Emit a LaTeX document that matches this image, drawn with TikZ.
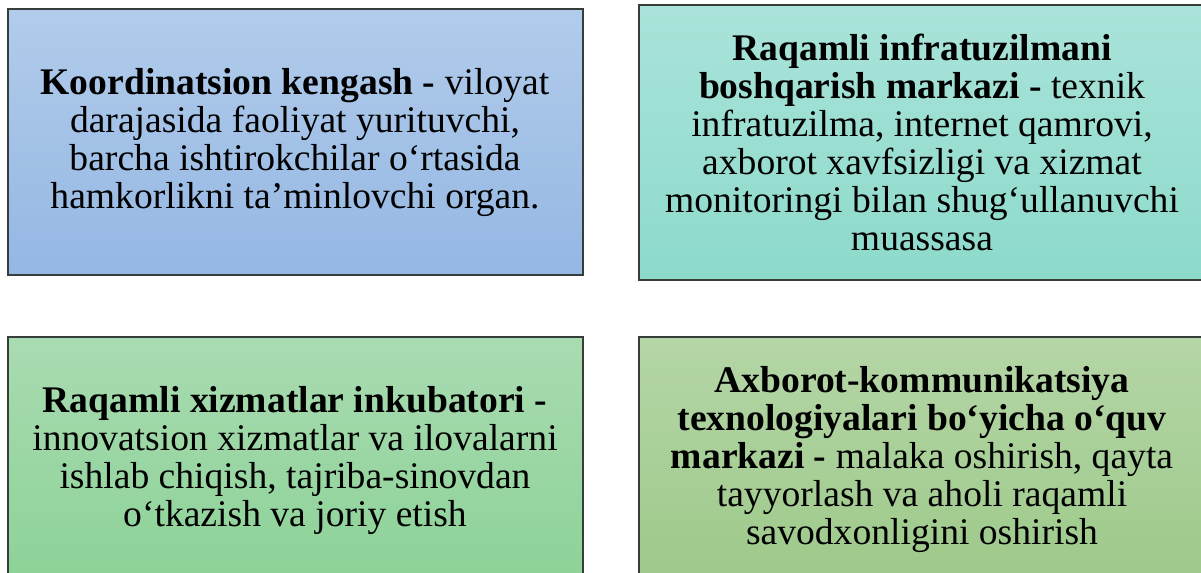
\documentclass[tikz,border=0pt]{standalone}
\usepackage{fontspec}
\setmainfont{Liberation Serif}
\definecolor{aTop}{RGB}{177,204,235}
\definecolor{aBot}{RGB}{149,183,227}
\definecolor{bTop}{RGB}{170,227,217}
\definecolor{bBot}{RGB}{140,218,203}
\definecolor{cTop}{RGB}{169,219,177}
\definecolor{cBot}{RGB}{140,210,151}
\definecolor{dTop}{RGB}{181,214,167}
\definecolor{dBot}{RGB}{157,201,137}
\definecolor{edge}{RGB}{55,62,58}
\begin{document}
\begin{tikzpicture}[x=0.5pt,y=-0.5pt,
  card/.style={draw=edge,line width=0.6pt},
  cardtext/.style={align=center,inner sep=0pt,font=\fontsize{18.8}{19}\selectfont,text=black}]
\useasboundingbox (0,0) rectangle (1201,573);
\clip (0,0) rectangle (1201,573);
\draw[card,top color=aTop,bottom color=aBot] (8,9) rectangle (583,275);
\draw[card,top color=bTop,bottom color=bBot] (639,5) rectangle (1210,280);
\draw[card,top color=cTop,bottom color=cBot] (8,337) rectangle (583,585);
\draw[card,top color=dTop,bottom color=dBot] (639,337) rectangle (1210,585);
\node[cardtext] (t1) at (295,143) {\textbf{Koordinatsion kengash -} viloyat\\darajasida faoliyat yurituvchi,\\barcha ishtirokchilar o‘rtasida\\hamkorlikni ta’minlovchi organ.};
\node[cardtext] (t2) at (922,142) {\textbf{Raqamli infratuzilmani}\\\textbf{boshqarish markazi -} texnik\\infratuzilma, internet qamrovi,\\axborot xavfsizligi va xizmat\\monitoringi bilan shug‘ullanuvchi\\muassasa};
\node[cardtext] (t3) at (295,461) {\textbf{Raqamli xizmatlar inkubatori -}\\innovatsion xizmatlar va ilovalarni\\ishlab chiqish, tajriba-sinovdan\\o‘tkazish va joriy etish};
\node[cardtext] (t4) at (922,460) {\textbf{Axborot-kommunikatsiya}\\\textbf{texnologiyalari bo‘yicha o‘quv}\\\textbf{markazi -} malaka oshirish, qayta\\tayyorlash va aholi raqamli\\savodxonligini oshirish};
\end{tikzpicture}
\end{document}
